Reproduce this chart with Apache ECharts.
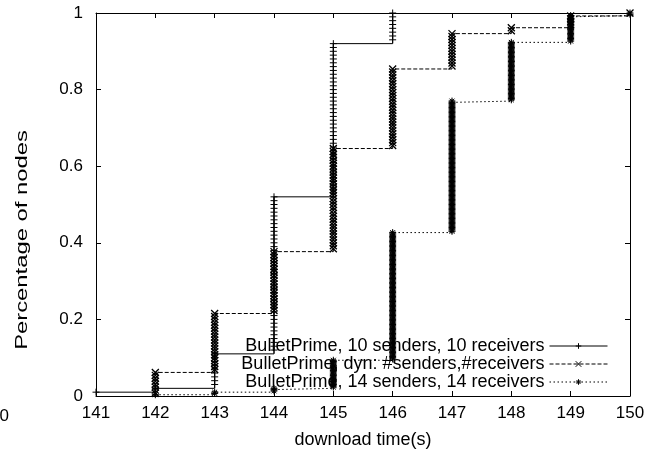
<!DOCTYPE html>
<html>
<head>
<meta charset="utf-8">
<script src="https://cdn.jsdelivr.net/npm/echarts@6/dist/echarts.min.js"></script>
<style>
  html, body { margin: 0; padding: 0; background: #fff; }
  #chart { width: 658px; height: 454px; }
</style>
</head>
<body>
<div id="chart"></div>
<script>
// download finish times (s), and how many nodes finished in each second
const times = [141, 142, 143, 144, 145, 146, 147, 148, 149, 150]
const finished10 = [1, 1, 9, 41, 40, 8, 0, 0, 0, 0]
const finishedDyn = [0, 8, 20, 21, 35, 27, 12, 2, 4, 1]
const finished14 = [0, 1, 2, 3, 22, 100, 103, 46, 21, 2]
const seriesNames = [
  'BulletPrime, 10 senders, 10 receivers',
  'BulletPrime, dyn: #senders,#receivers',
  'BulletPrime, 14 senders, 14 receivers'
]
const xTicks = [141, 150]
const yTicks = [0, 1]

const FONT = '"Liberation Sans", Arial, Helvetica, sans-serif'

// one point per node: (finish time, fraction of nodes done)
function cdfPoints(counts) {
  const total = counts.reduce((a, b) => a + b, 0)
  const pts = []
  let done = 0
  counts.forEach((c, i) => {
    for (let k = 0; k < c; k++) {
      done++
      pts.push([times[i], done / total])
    }
  })
  return pts
}

const PLUS = 'path://M0,5L10,5M5,0L5,10'
const CROSS = 'path://M0,0L10,10M10,0L0,10'
const STAR = 'path://M0,5L10,5M5,0L5,10M1.5,1.5L8.5,8.5M8.5,1.5L1.5,8.5'

function makeSeries(name, counts, symbol, size, dash, bw) {
  return {
    name,
    type: 'line',
    step: 'end',
    z: 3,
    data: cdfPoints(counts),
    symbol,
    symbolSize: size,
    showSymbol: true,
    showAllSymbol: true,
    silent: true,
    lineStyle: { color: '#000', width: 1, type: dash },
    itemStyle: { color: '#000', borderColor: '#000', borderWidth: bw },
    emphasis: { disabled: true }
  }
}

const axisCommon = {
  type: 'value',
  axisLine: { show: true, onZero: false, lineStyle: { color: '#000', width: 1 } },
  axisTick: { show: true, inside: true, length: 5, lineStyle: { color: '#000' } },
  splitLine: { show: false }
}

const chart = echarts.init(document.getElementById('chart'), null, { renderer: 'canvas' })
chart.setOption({
  animation: false,
  backgroundColor: '#fff',
  grid: { left: 96, right: 28, top: 13, bottom: 58, containLabel: false },
  xAxis: [
    Object.assign({}, axisCommon, {
      position: 'bottom', min: xTicks[0], max: xTicks[1], interval: 1,
      axisLabel: { color: '#000', fontSize: 17, fontFamily: FONT, margin: 9 },
      name: 'download time(s)', nameLocation: 'middle', nameGap: 35,
      nameTextStyle: { color: '#000', fontSize: 18, fontFamily: FONT }
    }),
    Object.assign({}, axisCommon, {
      position: 'top', min: xTicks[0], max: xTicks[1], interval: 1,
      axisLabel: { show: false }
    })
  ],
  yAxis: [
    Object.assign({}, axisCommon, {
      position: 'left', min: yTicks[0], max: yTicks[1], interval: 0.2,
      axisLabel: { color: '#000', fontSize: 17, fontFamily: FONT, margin: 13 }
    }),
    Object.assign({}, axisCommon, {
      position: 'right', min: yTicks[0], max: yTicks[1], interval: 0.2,
      axisLabel: { show: false }
    })
  ],
  legend: {
    orient: 'vertical',
    z: 1,
    right: 50,
    top: 337,
    padding: 0,
    align: 'right',
    itemWidth: 58,
    itemHeight: 7,
    itemGap: 0,
    selectedMode: false,
    itemStyle: { borderWidth: 1, borderColor: '#000', color: '#000' },
    lineStyle: { width: 1, color: '#000' },
    textStyle: { color: '#000', fontSize: 18, fontFamily: FONT },
    data: seriesNames
  },
  graphic: [
    {
      type: 'text', x: 22, y: 240, rotation: Math.PI / 2, scaleX: 1.4,
      style: { text: 'Percentage of nodes', fill: '#000', fontSize: 17, fontFamily: FONT, align: 'center', verticalAlign: 'middle' }
    },
    {
      type: 'text', x: 9, y: 416,
      style: { text: '140', fill: '#000', fontSize: 17, fontFamily: FONT, align: 'right', verticalAlign: 'middle' }
    }
  ],
  series: [
    makeSeries(seriesNames[0], finished10, PLUS, 7, 'solid', 1),
    makeSeries(seriesNames[1], finishedDyn, CROSS, 7, [4, 2], 1.3),
    makeSeries(seriesNames[2], finished14, STAR, 7, [1.5, 2.5], 1)
  ]
})
</script>
</body>
</html>
